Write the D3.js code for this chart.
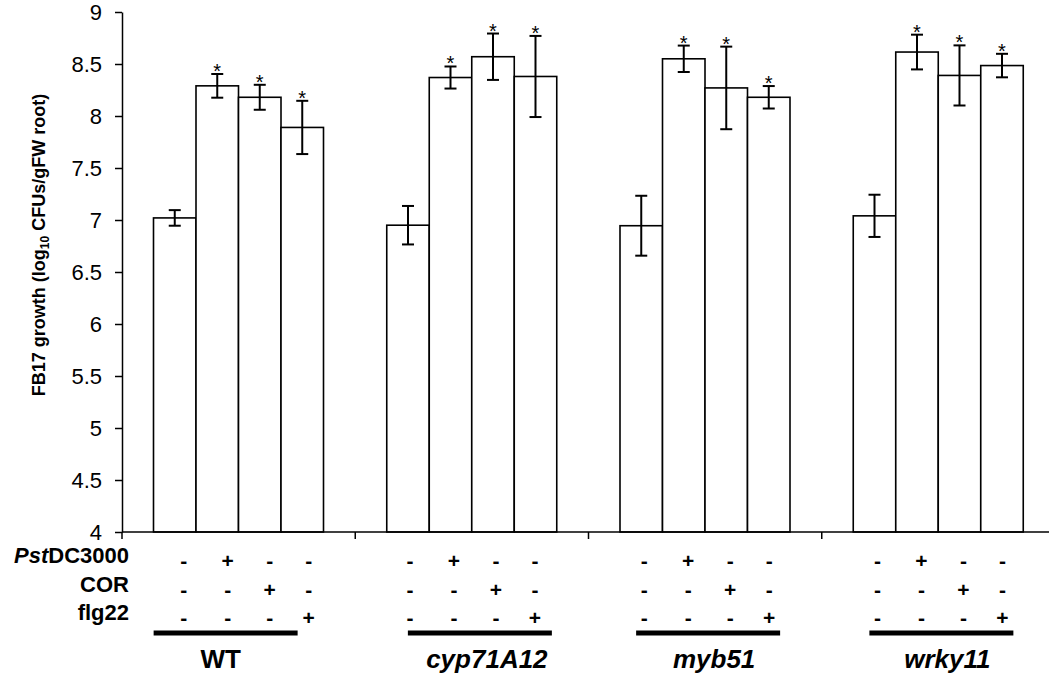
<!DOCTYPE html>
<html>
<head>
<meta charset="utf-8">
<script src="https://cdn.jsdelivr.net/npm/d3@7"></script>
<style>
  body { margin: 0; background: #fff; }
  svg { display: block; font-family: "Liberation Sans", Arial, sans-serif; }
</style>
</head>
<body>
<script>
// genotypes on the x axis
var groups = ["WT", "cyp71A12", "myb51", "wrky11"];
var italicGroup = [false, true, true, true];

// mean growth per genotype, one value per treatment (mock, PstDC3000, COR, flg22)
var means = [
  [7.02, 8.29, 8.18, 7.89],
  [6.95, 8.37, 8.57, 8.38],
  [6.945, 8.55, 8.27, 8.18],
  [7.04, 8.615, 8.39, 8.485]
];
// error bar half lengths
var errs = [
  [0.075, 0.114, 0.12, 0.256],
  [0.185, 0.106, 0.223, 0.39],
  [0.288, 0.127, 0.397, 0.108],
  [0.203, 0.167, 0.289, 0.113]
];
// significance star per treatment
var stars = [false, true, true, true];

// treatment table below the axis
var treatments = ["PstDC3000", "COR", "flg22"];
var signs = [
  ["-", "+", "-", "-"],
  ["-", "-", "+", "-"],
  ["-", "-", "-", "+"]
];

var yTicks = [4, 4.5, 5, 5.5, 6, 6.5, 7, 7.5, 8, 8.5, 9];

function makeChart() {
  var width = 1049, height = 677;
  var left = 122, bottom = 532, top = 12;

  var svg = d3.select("body").append("svg")
    .attr("width", width)
    .attr("height", height);

  var x0 = d3.scaleBand().domain(groups).range([left, 1055]);
  var x1 = d3.scaleBand().domain([0, 1, 2, 3]).range([31.5, 201.5]);
  var y = d3.scaleLinear().domain([4, 9]).range([bottom, top]);

  function rows(d, i) {
    return means[i].map(function(v, j) { return {v: v, e: errs[i][j], j: j}; });
  }

  // bars
  var g = svg.selectAll(".group")
    .data(groups)
    .enter().append("g")
      .attr("class", "group")
      .attr("transform", function(d) { return "translate(" + x0(d) + ",0)"; });

  g.selectAll("rect")
    .data(rows)
    .enter().append("rect")
      .attr("x", function(d) { return x1(d.j); })
      .attr("y", function(d) { return y(d.v); })
      .attr("width", x1.bandwidth())
      .attr("height", function(d) { return bottom - y(d.v); })
      .attr("fill", "#fff")
      .attr("stroke", "#000")
      .attr("stroke-width", 1.6);

  // error bars
  var eb = g.selectAll(".err")
    .data(rows)
    .enter().append("g")
      .attr("class", "err")
      .attr("transform", function(d) { return "translate(" + (x1(d.j) + x1.bandwidth() / 2) + ",0)"; });

  eb.append("line")
    .attr("y1", function(d) { return y(d.v + d.e); })
    .attr("y2", function(d) { return y(d.v - d.e); })
    .attr("stroke", "#000").attr("stroke-width", 2);
  [1, -1].forEach(function(s) {
    eb.append("line")
      .attr("x1", -6).attr("x2", 6)
      .attr("y1", function(d) { return y(d.v + s * d.e); })
      .attr("y2", function(d) { return y(d.v + s * d.e); })
      .attr("stroke", "#000").attr("stroke-width", 2);
  });

  eb.filter(function(d) { return stars[d.j]; })
    .append("text")
      .attr("y", function(d) { return y(d.v + d.e) + 4; })
      .attr("text-anchor", "middle")
      .style("font-size", "20px")
      .text("*");

  // y axis
  var yAxis = svg.append("g")
    .attr("transform", "translate(" + left + ",0)")
    .call(d3.axisLeft(y).tickValues(yTicks).tickSize(7).tickSizeOuter(0)
      .tickFormat(function(d) { return String(+d.toFixed(1)); }));
  yAxis.select(".domain").attr("stroke-width", 1.5);
  yAxis.selectAll(".tick line").attr("stroke-width", 1.5);
  yAxis.selectAll(".tick text")
    .attr("x", -20)
    .style("font-size", "22px")
    .style("font-family", "'Liberation Sans', Arial, sans-serif")
    .attr("fill", "#000");

  // x axis line with ticks on category boundaries
  svg.append("line")
    .attr("x1", left).attr("x2", width)
    .attr("y1", bottom).attr("y2", bottom)
    .attr("stroke", "#000").attr("stroke-width", 1.5);
  svg.selectAll(".xtick")
    .data(groups)
    .enter().append("line")
      .attr("class", "xtick")
      .attr("x1", function(d) { return x0(d); })
      .attr("x2", function(d) { return x0(d); })
      .attr("y1", bottom).attr("y2", bottom + 7)
      .attr("stroke", "#000").attr("stroke-width", 1.5);

  // y title
  var title = svg.append("text")
    .attr("transform", "translate(45,245) rotate(-90)")
    .attr("text-anchor", "middle")
    .style("font-size", "18px")
    .style("font-weight", "bold");
  title.append("tspan").text("FB17 growth (log");
  title.append("tspan").attr("dy", 4).style("font-size", "12px").text("10");
  title.append("tspan").attr("dy", -4).text(" CFUs/gFW root)");

  // treatment table
  var labelY = [563, 592, 620];
  var signY = [568, 597, 625];
  var colX = [-61, -17, 25, 64];
  var signShift = [6, -1, 0, 0];
  var lineDx = [-85, -64, -69, -69];
  var labelDx = [-18, 15, 9, 9];

  var labels = svg.selectAll(".rowlabel")
    .data(treatments)
    .enter().append("text")
      .attr("class", "rowlabel")
      .attr("x", 129)
      .attr("y", function(d, i) { return labelY[i]; })
      .attr("text-anchor", "end")
      .style("font-size", "22px")
      .style("font-weight", "bold");
  labels.filter(function(d, i) { return i === 0; })
    .call(function(t) {
      t.append("tspan").style("font-style", "italic").text("Pst");
      t.append("tspan").text("DC3000");
    });
  labels.filter(function(d, i) { return i > 0; }).text(function(d) { return d; });

  groups.forEach(function(grp, gi) {
    var cx = x0(grp) + x0.bandwidth() / 2;
    signs.forEach(function(row, ri) {
      svg.selectAll(".sign" + gi + "_" + ri)
        .data(row)
        .enter().append("text")
          .attr("x", function(d, j) { return cx + signShift[gi] + colX[j]; })
          .attr("y", signY[ri])
          .attr("text-anchor", "middle")
          .style("font-size", "21px")
          .style("font-weight", "bold")
          .text(function(d) { return d; });
    });

    svg.append("line")
      .attr("x1", cx + lineDx[gi]).attr("x2", cx + lineDx[gi] + 144)
      .attr("y1", 633).attr("y2", 633)
      .attr("stroke", "#000").attr("stroke-width", 5);

    svg.append("text")
      .attr("x", cx + labelDx[gi])
      .attr("y", 668)
      .attr("text-anchor", "middle")
      .style("font-size", "26px")
      .style("font-weight", "bold")
      .style("font-style", italicGroup[gi] ? "italic" : "normal")
      .text(grp);
  });
}

window.onload = function() {
  makeChart();
};
</script>
</body>
</html>
